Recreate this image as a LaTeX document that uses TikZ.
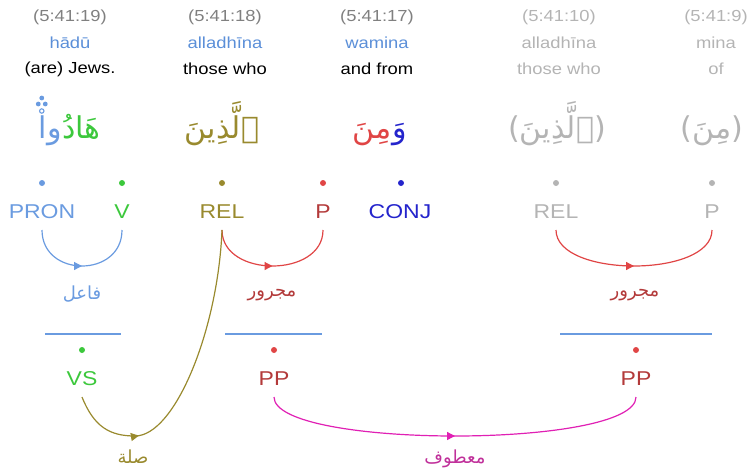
\documentclass[tikz,border=0pt]{standalone}
\usepackage{fontspec}
\setmainfont{Liberation Sans}[FakeStretch=1.15]
\newfontfamily\arabicfont[Script=Arabic]{DejaVu Sans}
\TeXXeTstate=1
\usetikzlibrary{calc, arrows.meta, decorations.markings}

\definecolor{refgrey}{HTML}{808080}
\definecolor{fadegrey}{HTML}{B4B4B4}
\definecolor{translitblue}{HTML}{5B8FD8}
\definecolor{pronblue}{HTML}{6A9BE0}
\definecolor{verbgreen}{HTML}{3CC83C}
\definecolor{relolive}{HTML}{998A2E}
\definecolor{preplight}{HTML}{E04545}
\definecolor{prepdark}{HTML}{B33A3A}
\definecolor{conjblue}{HTML}{2424CC}
\definecolor{linkpink}{HTML}{E020B4}
\definecolor{labelpink}{HTML}{C0309A}

\tikzset{
  refnum/.style={text=refgrey, font=\fontsize{16}{19}\selectfont},
  translit/.style={text=translitblue, font=\fontsize{16}{19}\selectfont},
  gloss/.style={text=black, font=\fontsize{16}{19}\selectfont},
  faded/.style={text=fadegrey},
  word/.style={font=\arabicfont\fontsize{30}{36}\selectfont, inner sep=0pt},
  posdot/.style={circle, fill=#1, inner sep=0pt, minimum size=6pt},
  postag/.style={text=#1, font=\fontsize{20}{24}\selectfont,
    text height=14pt, text depth=0pt, inner sep=2pt, outer sep=10pt},
  deplabel/.style={text=#1, font=\arabicfont\fontsize{18}{22}\selectfont},
  spanline/.style={draw=pronblue, line width=1.3pt},
  deparc/.style 2 args={draw=#1, line width=1.2pt, postaction={decorate},
    decoration={markings, mark=at position #2 with
      {\arrow[#1]{Triangle[length=8pt, width=8pt]}}}},
}

\begin{document}
\begin{tikzpicture}[x=1pt, y=-1pt]
    \useasboundingbox (0,0) rectangle (751,472);

    % =================================================================
    % WORD HEADERS (LOCATION, TRANSLITERATION, TRANSLATION)
    % =================================================================
    \node[refnum] (r19) at (70,17) {(5:41:19)};
    \node[translit] (t19) at (70,43) {hādū};
    \node[gloss] (g19) at (70,69) {(are) Jews.};

    \node[refnum] (r18) at (225,17) {(5:41:18)};
    \node[translit] (t18) at (225,43) {alladhīna};
    \node[gloss] (g18) at (225,69) {those who};

    \node[refnum] (r17) at (377,17) {(5:41:17)};
    \node[translit] (t17) at (377,43) {wamina};
    \node[gloss] (g17) at (377,69) {and from};

    \node[refnum, faded] (r10) at (559,17) {(5:41:10)};
    \node[translit, faded] (t10) at (559,43) {alladhīna};
    \node[gloss, faded] (g10) at (559,69) {those who};

    \node[refnum, faded] (r9) at (716,17) {(5:41:9)};
    \node[translit, faded] (t9) at (716,43) {mina};
    \node[gloss, faded] (g9) at (716,69) {of};

    % =================================================================
    % ARABIC WORDS (one node per coloured segment)
    % =================================================================
    \node[word, text=verbgreen, anchor=base west] (w19a) at (62,138) {\beginR هَادُ\endR};
    \node[word, text=pronblue, anchor=base east] (w19b) at (w19a.base west) {\beginR وا\endR};
    % Quranic marks over the alif (small high zero, three dots)
    \coordinate (alif) at ([xshift=3pt]w19b.base west);
    \draw[pronblue, line width=1.1pt] ($(alif)+(0,-27)$) circle (2.2);
    \fill[pronblue] ($(alif)+(0,-40)$) circle (2.4);
    \fill[pronblue] ($(alif)+(-3.5,-34)$) circle (2.4);
    \fill[pronblue] ($(alif)+(3.5,-34)$) circle (2.4);

    \node[word, text=relolive, anchor=base] (w18) at (222,138) {\beginR ٱلَّذِينَ\endR};
    \node[word, text=conjblue, anchor=base west] (w17a) at (392,138) {\beginR وَ\endR};
    \node[word, text=preplight, anchor=base east] (w17b) at (w17a.base west) {\beginR مِنَ\endR};
    \node[word, text=fadegrey, anchor=base] (w10) at (557,138) {\beginR(ٱلَّذِينَ)\endR};
    \node[word, text=fadegrey, anchor=base] (w9) at (712,138) {\beginR(مِنَ)\endR};

    % =================================================================
    % PART-OF-SPEECH TAGS
    % =================================================================
    \node[posdot=pronblue] (dpron) at (42,183) {};
    \node[posdot=verbgreen] (dverb) at (122,183) {};
    \node[posdot=relolive] (drel) at (222,183) {};
    \node[posdot=preplight] (dprep) at (323,183) {};
    \node[posdot=conjblue] (dconj) at (401,183) {};
    \node[posdot=fadegrey] (drelb) at (556,183) {};
    \node[posdot=fadegrey] (dprepb) at (712,183) {};

    \node[postag=pronblue] (pron) at (42,211) {PRON};
    \node[postag=verbgreen] (verb) at (122,211) {V};
    \node[postag=relolive] (rel) at (222,211) {REL};
    \node[postag=prepdark] (prep) at (323,211) {P};
    \node[postag=conjblue] (conj) at (400,211) {CONJ};
    \node[postag=fadegrey] (relb) at (556,211) {REL};
    \node[postag=fadegrey] (prepb) at (712,211) {P};

    % word-level relations
    \draw[deparc={pronblue}{0.5}] (pron.south) .. controls +(0,48) and +(0,48) .. (verb.south);
    \node[deplabel=pronblue] (lfail) at (82,294) {\beginR فاعل\endR};

    \draw[deparc={preplight}{0.5}] (rel.south) .. controls +(0,48) and +(0,48) .. (prep.south);
    \node[deplabel=prepdark] (lmajr) at (272,295) {\beginR مجرور\endR};

    \draw[deparc={preplight}{0.5}] (relb.south) .. controls +(0,48) and +(0,48) .. (prepb.south);
    \node[deplabel=prepdark] (lmajrb) at (635,295) {\beginR مجرور\endR};

    % =================================================================
    % PHRASES
    % =================================================================
    \draw[spanline] (45,334) -- (121,334);
    \draw[spanline] (225,334) -- (322,334);
    \draw[spanline] (560,334) -- (712,334);

    \node[posdot=verbgreen] (dvs) at (82,350) {};
    \node[posdot=preplight] (dppa) at (274,350) {};
    \node[posdot=preplight] (dppb) at (636,350) {};

    \node[postag=verbgreen] (vs) at (82,378) {VS};
    \node[postag=prepdark] (ppa) at (274,378) {PP};
    \node[postag=prepdark] (ppb) at (636,378) {PP};

    % phrase-level relations
    \coordinate (relbend) at (135,436);
    \draw[deparc={relolive}{0.245}] (vs.south) .. controls +(12,30) and +(-25,0) .. (relbend)
        .. controls +(40,0) and +(-4,100) .. (rel.south);
    \node[deplabel=relolive] (lsila) at (133,457) {\beginR صلة\endR};

    \draw[deparc={linkpink}{0.5}] (ppa.south) .. controls +(0,52) and +(0,52) .. (ppb.south);
    \node[deplabel=labelpink] (latf) at (455,459) {\beginR معطوف\endR};

\end{tikzpicture}
\end{document}
